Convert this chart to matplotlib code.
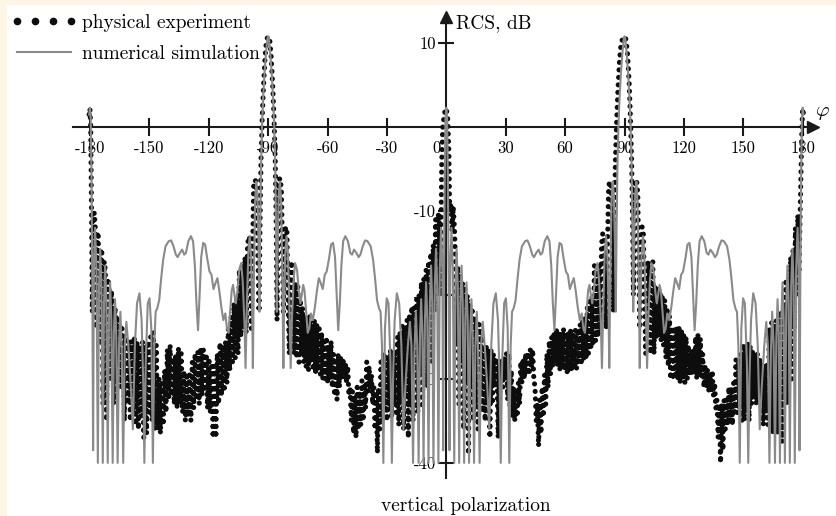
import matplotlib
matplotlib.use('Agg')
import matplotlib.pyplot as plt
from matplotlib.lines import Line2D
from matplotlib.patches import Rectangle
from matplotlib.transforms import ScaledTranslation

plt.rcParams['font.family'] = 'cmr10'
plt.rcParams['mathtext.fontset'] = 'cm'
plt.rcParams['axes.unicode_minus'] = False
plt.rcParams['axes.formatter.use_mathtext'] = True

# numerical simulation, RCS (dB) vs angle phi (deg)
sim_phi = [
    -180.4, -180.0, -179.6, -179.2, -178.8, -178.4, -178.0, -177.4, -176.7, -176.0,
    -175.4, -174.8, -174.2, -173.5, -172.9, -172.3, -171.7, -171.0, -170.4, -169.8,
    -169.2, -168.5, -167.9, -167.3, -166.7, -166.0, -165.3, -164.6, -163.9, -163.2,
    -162.4, -161.6, -160.6, -159.3, -158.3, -157.3, -156.2, -155.0, -153.9, -153.1,
    -152.5, -151.8, -150.8, -149.9, -149.0, -148.2, -147.5, -146.8, -146.0, -145.0,
    -144.0, -143.0, -141.8, -140.2, -139.0, -137.8, -136.6, -135.7, -134.6, -133.4,
    -132.4, -131.5, -130.3, -129.0, -127.9, -127.0, -126.2, -125.4, -124.6, -123.8,
    -122.8, -121.8, -120.8, -119.6, -118.6, -117.6, -116.6, -115.6, -114.6, -113.6,
    -112.6, -111.6, -110.8, -110.0, -109.2, -108.4, -107.7, -107.0, -106.3, -105.5,
    -104.6, -103.6, -102.8, -102.0, -101.4, -100.7, -100.0, -99.3, -98.6, -98.1,
    -97.7, -97.2, -96.6, -96.0, -95.4, -94.9, -94.4, -94.0, -93.6, -93.1,
    -92.5, -91.8, -91.0, -90.4, -90.0,
    -89.6, -89.0, -88.2, -87.5, -86.9, -86.4, -86.0, -85.6, -85.1, -84.6,
    -84.0, -83.4, -82.8, -82.3, -81.9, -81.4, -80.7, -80.0, -79.3, -78.6,
    -78.0, -77.2, -76.4, -75.4, -74.5, -73.7, -73.0, -72.3, -71.6, -70.8,
    -70.0, -69.2, -68.4, -67.4, -66.4, -65.4, -64.4, -63.4, -62.4, -61.4,
    -60.4, -59.2, -58.2, -57.2, -56.2, -55.4, -54.6, -53.8, -53.0, -52.1,
    -51.0, -49.7, -48.5, -47.6, -46.6, -45.4, -44.3, -43.4, -42.2, -41.0,
    -39.8, -38.2, -37.0, -36.0, -35.0, -34.0, -33.2, -32.5, -31.8, -31.0,
    -30.1, -29.2, -28.2, -27.5, -26.9, -26.1, -25.0, -23.8, -22.7, -21.7,
    -20.7, -19.4, -18.4, -17.6, -16.8, -16.1, -15.4, -14.7, -14.0, -13.3,
    -12.7, -12.1, -11.5, -10.8, -10.2, -9.6, -9.0, -8.3, -7.7, -7.1,
    -6.5, -5.8, -5.2, -4.6, -4.0, -3.3, -2.6, -2.0, -1.6, -1.2,
    -0.8, -0.4,
    0.0, 0.4, 0.8, 1.2, 1.6, 2.0, 2.6, 3.3, 4.0, 4.6,
    5.2, 5.8, 6.5, 7.1, 7.7, 8.3, 9.0, 9.6, 10.2, 10.8,
    11.5, 12.1, 12.7, 13.3, 14.0, 14.7, 15.4, 16.1, 16.8, 17.6,
    18.4, 19.4, 20.7, 21.7, 22.7, 23.8, 25.0, 26.1, 26.9, 27.5,
    28.2, 29.2, 30.1, 31.0, 31.8, 32.5, 33.2, 34.0, 35.0, 36.0,
    37.0, 38.2, 39.8, 41.0, 42.2, 43.4, 44.3, 45.4, 46.6, 47.6,
    48.5, 49.7, 51.0, 52.1, 53.0, 53.8, 54.6, 55.4, 56.2, 57.2,
    58.2, 59.2, 60.4, 61.4, 62.4, 63.4, 64.4, 65.4, 66.4, 67.4,
    68.4, 69.2, 70.0, 70.8, 71.6, 72.3, 73.0, 73.7, 74.5, 75.4,
    76.4, 77.2, 78.0, 78.6, 79.3, 80.0, 80.7, 81.4, 81.9, 82.3,
    82.8, 83.4, 84.0, 84.6, 85.1, 85.6, 86.0, 86.4, 86.9, 87.5,
    88.2, 89.0, 89.6, 90.0,
    90.4, 91.0, 91.8, 92.5, 93.1, 93.6, 94.0, 94.4, 94.9, 95.4,
    96.0, 96.6, 97.2, 97.7, 98.1, 98.6, 99.3, 100.0, 100.7, 101.4,
    102.0, 102.8, 103.6, 104.6, 105.5, 106.3, 107.0, 107.7, 108.4, 109.2,
    110.0, 110.8, 111.6, 112.6, 113.6, 114.6, 115.6, 116.6, 117.6, 118.6,
    119.6, 120.8, 121.8, 122.8, 123.8, 124.6, 125.4, 126.2, 127.0, 127.9,
    129.0, 130.3, 131.5, 132.4, 133.4, 134.6, 135.7, 136.6, 137.8, 139.0,
    140.2, 141.8, 143.0, 144.0, 145.0, 146.0, 146.8, 147.5, 148.2, 149.0,
    149.9, 150.8, 151.8, 152.5, 153.1, 153.9, 155.0, 156.2, 157.3, 158.3,
    159.3, 160.6, 161.6, 162.4, 163.2, 163.9, 164.6, 165.3, 166.0, 166.7,
    167.3, 167.9, 168.5, 169.2, 169.8, 170.4, 171.0, 171.7, 172.3, 172.9,
    173.5, 174.2, 174.8, 175.4, 176.0, 176.7, 177.4, 178.0, 178.4, 178.8,
    179.2, 179.6, 180.0, 180.4,
]
sim_rcs = [
    1.5, 2.3, 1.0, -6.0, -18.0, -38.5, -17.0, -12.0, -17.0, -40.0,
    -19.0, -14.5, -19.0, -40.0, -21.0, -16.5, -21.0, -40.0, -23.0, -18.5,
    -23.0, -40.0, -24.5, -20.5, -25.0, -40.0, -26.0, -22.0, -27.0, -40.0,
    -26.0, -23.2, -26.0, -31.0, -36.0, -26.0, -21.0, -19.8, -23.0, -30.0,
    -40.0, -28.0, -21.0, -20.4, -24.0, -40.0, -26.0, -22.0, -21.6, -20.6,
    -18.0, -15.8, -14.2, -13.6, -13.5, -14.2, -15.2, -15.5, -15.0, -14.6,
    -15.2, -15.0, -13.6, -13.0, -13.6, -16.5, -21.0, -24.2, -20.0, -15.5,
    -13.8, -14.0, -15.6, -17.2, -17.6, -19.3, -18.6, -18.0, -19.6, -21.5,
    -23.0, -22.2, -24.0, -24.5, -22.0, -19.5, -18.8, -20.0, -21.0, -19.5,
    -17.0, -16.2, -18.5, -23.0, -28.7, -21.0, -15.0, -13.0, -15.5, -21.0,
    -28.7, -18.0, -9.0, -6.5, -8.0, -13.0, -22.0, -12.0, -5.0, 0.0,
    3.5, 6.5, 9.0, 10.5, 10.8,
    10.5, 9.0, 6.5, 3.5, 0.0, -5.0, -12.0, -22.0, -13.0, -8.0,
    -6.5, -9.0, -18.0, -28.7, -21.0, -15.5, -13.0, -15.0, -21.0, -28.7,
    -23.0, -18.5, -16.2, -17.0, -19.5, -21.0, -20.0, -18.8, -19.5, -22.0,
    -24.5, -24.0, -22.2, -23.0, -21.5, -19.6, -18.0, -18.6, -19.3, -17.6,
    -17.2, -15.6, -14.0, -13.8, -15.5, -20.0, -24.2, -21.0, -16.5, -13.6,
    -13.0, -13.6, -15.0, -15.2, -14.6, -15.0, -15.5, -15.2, -14.2, -13.5,
    -13.6, -14.2, -15.8, -18.0, -20.6, -21.6, -22.0, -26.0, -40.0, -24.0,
    -20.4, -21.0, -28.0, -40.0, -30.0, -23.0, -19.8, -21.0, -26.0, -36.0,
    -31.0, -26.0, -23.2, -26.0, -40.0, -27.0, -22.0, -26.0, -40.0, -25.0,
    -20.5, -24.5, -40.0, -23.0, -18.5, -23.0, -40.0, -21.0, -16.5, -21.0,
    -40.0, -19.0, -14.5, -19.0, -40.0, -17.0, -12.0, -17.0, -38.5, -18.0,
    -6.0, 1.0,
    2.3, 1.0, -6.0, -18.0, -38.5, -17.0, -12.0, -17.0, -40.0, -19.0,
    -14.5, -19.0, -40.0, -21.0, -16.5, -21.0, -40.0, -23.0, -18.5, -23.0,
    -40.0, -24.5, -20.5, -25.0, -40.0, -26.0, -22.0, -27.0, -40.0, -26.0,
    -23.2, -26.0, -31.0, -36.0, -26.0, -21.0, -19.8, -23.0, -30.0, -40.0,
    -28.0, -21.0, -20.4, -24.0, -40.0, -26.0, -22.0, -21.6, -20.6, -18.0,
    -15.8, -14.2, -13.6, -13.5, -14.2, -15.2, -15.5, -15.0, -14.6, -15.2,
    -15.0, -13.6, -13.0, -13.6, -16.5, -21.0, -24.2, -20.0, -15.5, -13.8,
    -14.0, -15.6, -17.2, -17.6, -19.3, -18.6, -18.0, -19.6, -21.5, -23.0,
    -22.2, -24.0, -24.5, -22.0, -19.5, -18.8, -20.0, -21.0, -19.5, -17.0,
    -16.2, -18.5, -23.0, -28.7, -21.0, -15.0, -13.0, -15.5, -21.0, -28.7,
    -18.0, -9.0, -6.5, -8.0, -13.0, -22.0, -12.0, -5.0, 0.0, 3.5,
    6.5, 9.0, 10.5, 10.8,
    10.5, 9.0, 6.5, 3.5, 0.0, -5.0, -12.0, -22.0, -13.0, -8.0,
    -6.5, -9.0, -18.0, -28.7, -21.0, -15.5, -13.0, -15.0, -21.0, -28.7,
    -23.0, -18.5, -16.2, -17.0, -19.5, -21.0, -20.0, -18.8, -19.5, -22.0,
    -24.5, -24.0, -22.2, -23.0, -21.5, -19.6, -18.0, -18.6, -19.3, -17.6,
    -17.2, -15.6, -14.0, -13.8, -15.5, -20.0, -24.2, -21.0, -16.5, -13.6,
    -13.0, -13.6, -15.0, -15.2, -14.6, -15.0, -15.5, -15.2, -14.2, -13.5,
    -13.6, -14.2, -15.8, -18.0, -20.6, -21.6, -22.0, -26.0, -40.0, -24.0,
    -20.4, -21.0, -28.0, -40.0, -30.0, -23.0, -19.8, -21.0, -26.0, -36.0,
    -31.0, -26.0, -23.2, -26.0, -40.0, -27.0, -22.0, -26.0, -40.0, -25.0,
    -20.5, -24.5, -40.0, -23.0, -18.5, -23.0, -40.0, -21.0, -16.5, -21.0,
    -40.0, -19.0, -14.5, -19.0, -40.0, -17.0, -12.0, -17.0, -38.5, -18.0,
    -6.0, 1.0, 2.3, 1.5,
]

# physical experiment, traced as a path through the measured points
exp_phi = [
    -180.4, -180.0, -179.6, -179.2, -178.8, -178.3, -177.8, -177.3, -176.8, -176.3,
    -175.8, -175.2, -174.6, -174.0, -173.4, -172.8, -172.2, -171.6, -171.0, -170.4,
    -169.8, -169.2, -168.6, -168.0, -167.4, -166.8, -166.2, -165.6, -165.0, -164.4,
    -163.8, -163.2, -162.6, -162.0, -161.4, -160.8, -160.2,
    -159.6, -159.0, -158.3, -157.6, -156.9, -156.2, -155.5, -154.8, -154.1, -153.4,
    -152.8, -152.1, -151.4, -150.7, -150.0, -149.3, -148.6, -147.9, -147.2, -146.5,
    -145.8, -145.1, -144.4, -143.7, -143.0, -142.3, -141.6, -140.9, -140.2, -139.5,
    -138.8, -138.1, -137.4, -136.7, -136.0, -135.3, -134.6, -133.9, -133.2, -132.5,
    -131.8, -131.1, -130.4, -129.7, -129.0, -128.3, -127.6, -126.9, -126.2, -125.5,
    -124.8, -124.1, -123.4, -122.7, -122.0, -121.3, -120.6, -119.9, -119.2, -118.5,
    -117.8, -117.1, -116.4, -115.7, -115.0, -114.3, -113.6, -112.9, -112.2, -111.5,
    -110.8, -110.1, -109.4, -108.7, -108.0, -107.3, -106.6, -105.9, -105.2, -104.5,
    -103.8, -103.1, -102.4,
    -101.7, -101.1, -100.4, -99.7, -99.1, -98.5, -97.9, -97.3, -96.7, -96.1,
    -95.6, -95.1, -94.6, -94.1, -93.6, -93.0, -92.3, -91.5, -90.8, -90.0,
    -89.2, -88.5, -87.7, -87.0, -86.4, -85.9, -85.5, -85.0, -84.5, -83.9,
    -83.3, -82.8, -82.3, -81.7, -81.1, -80.5, -79.9, -79.3, -78.7, -78.1,
    -77.5, -76.9,
    -76.2, -75.6, -75.0, -74.4, -73.8, -73.2, -72.6, -72.0, -71.4, -70.8,
    -70.2, -69.6, -69.0, -68.4, -67.8, -67.2, -66.6, -66.0, -65.4, -64.8,
    -64.2, -63.6, -63.0, -62.4, -61.8, -61.2, -60.6, -60.0, -59.4, -58.8,
    -58.2, -57.6, -57.0, -56.4, -55.8, -55.2, -54.6, -54.0, -53.4, -52.8,
    -52.2, -51.6, -51.0, -50.4, -49.8, -49.2, -48.6, -48.0, -47.4, -46.8,
    -46.2, -45.6, -45.0, -44.4, -43.8, -43.2, -42.6, -42.0, -41.4, -40.8,
    -40.2, -39.6, -39.0, -38.4, -37.8, -37.2, -36.6, -36.0, -35.4, -34.8,
    -34.2, -33.6, -33.0, -32.4, -31.8, -31.2, -30.6, -30.0, -29.4, -28.8,
    -28.2, -27.6, -27.0, -26.4, -25.8, -25.2, -24.6, -24.0, -23.4, -22.8,
    -22.2, -21.6, -21.0, -20.4, -19.8, -19.2, -18.6, -18.0, -17.4, -16.8,
    -16.2, -15.6, -15.0, -14.4, -13.8, -13.2, -12.6, -12.0, -11.4, -10.8,
    -10.2, -9.6, -9.0, -8.4, -7.8, -7.2, -6.6, -6.0, -5.4, -4.8,
    -4.2, -3.6, -3.0, -2.6, -2.3, -1.8, -1.0, -0.4,
    0.0, 0.7, 1.3, 1.7, 2.3, 2.9, 3.5, 4.1, 4.7, 5.2,
    5.8, 6.4, 7.0, 7.6, 8.2, 8.8, 9.4, 10.0, 10.6, 11.2,
    11.8, 12.4, 13.0, 13.6, 14.2, 14.8, 15.4, 16.0, 16.6, 17.2,
    17.8, 18.4, 19.0, 19.6, 20.2, 20.8, 21.4, 22.0, 22.6, 23.2,
    23.8, 24.4, 25.0, 25.6, 26.2, 26.8, 27.4, 28.0, 28.6, 29.2,
    29.8, 30.4, 31.0, 31.6, 32.2, 32.8, 33.4, 34.0, 34.6, 35.2,
    35.8, 36.4, 37.0, 37.6, 38.2, 38.8, 39.4, 40.0, 40.6, 41.2,
    41.8, 42.4, 43.0, 43.6, 44.2, 44.8, 45.4, 46.0, 46.6, 47.2,
    47.8, 48.4, 49.0, 49.6, 50.2, 50.8, 51.4, 52.0, 52.6, 53.2,
    53.8, 54.4, 55.0, 55.6, 56.2, 56.8, 57.4, 58.0, 58.6, 59.2,
    59.8, 60.4, 61.0, 61.6, 62.2, 62.8, 63.4, 64.0, 64.6, 65.2,
    65.8, 66.4, 67.0, 67.6, 68.2, 68.8, 69.4, 70.0, 70.6, 71.2,
    71.8, 72.4, 73.0, 73.6, 74.2, 74.8, 75.4, 76.0, 76.6, 77.2,
    77.8, 78.4, 79.0, 79.6, 80.2, 80.8, 81.4, 82.0, 82.6, 83.2,
    83.8, 84.4, 84.9, 85.4, 86.0, 86.7, 87.5, 88.3, 89.2, 90.0,
    90.8, 91.6, 92.4, 93.0, 93.6, 94.1, 94.5, 95.0, 95.5, 96.1,
    96.7, 97.2, 97.7, 98.3, 98.9, 99.5, 100.1, 100.7, 101.3, 101.9,
    102.5, 103.1, 103.7, 104.3, 104.9, 105.5, 106.1, 106.7, 107.3, 107.9,
    108.5, 109.1, 109.7, 110.3, 110.9, 111.5, 112.1, 112.7, 113.3, 113.9,
    114.5, 115.1, 115.7, 116.3, 116.9, 117.5, 118.1, 118.7, 119.3, 119.9,
    120.5, 121.1, 121.7, 122.3, 122.9, 123.5, 124.1, 124.7, 125.3, 125.9,
    126.5, 127.1, 127.7, 128.3, 128.9, 129.5, 130.1, 130.7, 131.3, 131.9,
    132.5, 133.1, 133.7, 134.3, 134.9, 135.5, 136.1, 136.7, 137.3, 137.9,
    138.5, 139.1, 139.7, 140.3, 140.9, 141.5, 142.1, 142.7, 143.3, 143.9,
    144.5, 145.1, 145.7, 146.3, 146.9, 147.5, 148.1, 148.7, 149.3, 149.9,
    150.5, 151.1, 151.7, 152.3, 152.9, 153.5, 154.1, 154.7, 155.3, 155.9,
    156.5, 157.1, 157.7, 158.3, 158.9, 159.5, 160.1, 160.7, 161.3, 161.9,
    162.5, 163.1, 163.7, 164.3, 164.9, 165.5, 166.1, 166.7, 167.3, 167.9,
    168.5, 169.1, 169.7, 170.3, 170.9, 171.5, 172.1, 172.7, 173.3, 173.9,
    174.5, 175.1, 175.7, 176.3, 176.9, 177.5, 178.1, 178.7, 179.2, 179.6,
    180.0, 180.4,
]
exp_rcs = [
    1.5, 2.2, 0.0, -10.0, -22.0, -11.0, -10.2, -12.0, -24.0, -13.0,
    -12.5, -26.0, -15.0, -14.5, -33.0, -16.0, -17.0, -35.0, -18.0, -19.0,
    -30.0, -19.5, -21.0, -33.0, -21.5, -22.5, -30.0, -23.0, -23.0, -31.0,
    -24.0, -25.0, -35.0, -25.0, -26.0, -33.0, -25.5,
    -35.0, -25.5, -34.0, -25.0, -35.5, -25.5, -36.0, -26.0, -34.5, -25.5,
    -37.0, -26.0, -36.5, -25.5, -34.0, -25.0, -35.0, -24.5, -36.0, -26.0,
    -36.0, -30.0, -36.5, -30.5, -35.5, -29.0, -34.0, -26.5, -32.5, -26.0,
    -32.0, -27.5, -33.0, -27.0, -33.5, -26.3, -33.0, -27.0, -34.0, -29.0,
    -35.0, -29.3, -34.5, -29.5, -35.0, -28.0, -33.5, -27.0, -32.5, -26.8,
    -33.0, -26.3, -32.0, -26.5, -31.5, -27.0, -33.5, -27.5, -34.0, -28.5,
    -37.0, -28.5, -37.0, -27.0, -33.0, -25.7, -32.0, -26.0, -31.5, -25.5,
    -30.5, -24.0, -29.0, -22.6, -28.0, -21.0, -27.5, -20.5, -27.0, -17.0,
    -25.0, -16.5, -24.0,
    -15.5, -24.5, -14.0, -13.0, -13.5, -24.0, -16.0, -7.0, -6.3, -6.5,
    -9.0, -16.0, -22.0, -12.0, -4.0, 1.0, 5.0, 8.5, 10.4, 10.8,
    10.4, 8.5, 5.0, 1.0, -4.0, -12.0, -23.0, -12.0, -6.3, -6.1,
    -7.5, -14.0, -22.0, -13.0, -11.9, -12.5, -21.0, -27.0, -17.0, -16.0,
    -20.0, -27.0,
    -18.5, -27.5, -19.0, -28.0, -20.5, -27.0, -21.5, -28.0, -22.5, -28.5,
    -23.0, -29.0, -22.5, -28.0, -23.5, -29.0, -23.0, -29.5, -23.5, -29.0,
    -24.0, -29.5, -24.5, -30.0, -25.5, -30.0, -25.0, -30.5, -26.0, -30.0,
    -25.5, -31.0, -27.0, -32.0, -27.5, -32.5, -27.0, -31.0, -27.4, -30.0,
    -27.5, -30.0, -28.0, -30.5, -28.5, -32.0, -31.0, -35.0, -31.5, -36.5,
    -32.0, -37.0, -31.0, -36.0, -31.5, -35.5, -30.2, -35.0, -30.5, -33.5,
    -28.0, -31.5, -28.5, -31.0, -29.5, -33.0, -31.0, -36.0, -31.5, -38.8,
    -31.0, -36.0, -28.0, -35.0, -27.0, -34.0, -27.0, -35.0, -27.5, -33.0,
    -26.5, -34.5, -27.0, -33.0, -26.5, -34.0, -25.0, -35.5, -24.5, -33.0,
    -23.7, -36.0, -23.7, -32.0, -23.0, -37.0, -22.5, -33.0, -21.4, -35.0,
    -21.5, -30.0, -20.5, -34.0, -20.0, -29.0, -18.5, -33.5, -18.0, -27.0,
    -17.0, -31.0, -16.0, -24.0, -15.0, -28.0, -14.0, -22.0, -11.0, -19.0,
    -10.3, -11.0, -20.0, -10.0, -4.0, 0.0, 1.5, 2.2,
    2.2, 1.0, -3.0, -10.0, -9.0, -12.5, -9.5, -12.0, -16.6, -26.0,
    -16.6, -33.0, -17.5, -28.0, -18.5, -36.0, -19.3, -30.0, -20.0, -39.0,
    -21.0, -31.0, -21.5, -35.0, -22.5, -33.0, -23.0, -36.0, -23.5, -31.5,
    -24.0, -34.0, -26.0, -35.0, -26.0, -32.5, -26.5, -37.0, -26.5, -33.0,
    -27.0, -31.0, -27.5, -30.0, -37.0, -28.0, -30.5, -27.7, -31.0, -27.5,
    -30.0, -27.0, -32.5, -27.0, -33.5, -29.0, -34.5, -31.0, -35.0, -31.5,
    -34.5, -30.5, -33.0, -28.0, -30.5, -27.5, -30.0, -27.0, -29.5, -26.8,
    -29.5, -26.5, -28.5, -26.5, -30.0, -31.0, -35.0, -33.0, -38.0, -32.5,
    -36.5, -31.0, -34.5, -29.5, -33.0, -27.0, -31.0, -25.5, -29.5, -25.0,
    -28.5, -24.5, -28.0, -24.0, -28.5, -24.5, -29.0, -24.5, -28.5, -24.0,
    -29.0, -24.5, -29.3, -24.5, -28.8, -24.3, -29.0, -24.8, -28.5, -24.2,
    -28.8, -24.5, -28.0, -23.5, -28.0, -22.9, -27.6, -22.5, -27.5, -21.5,
    -27.0, -20.8, -26.5, -20.0, -26.0, -16.5, -25.5, -16.2, -25.0, -16.5,
    -24.5, -14.0, -12.7, -13.0, -22.0, -24.0, -14.0, -7.0, -6.5, -6.7,
    -10.0, -22.0, -12.0, -4.0, 0.5, 4.5, 8.0, 10.0, 10.6, 10.8,
    10.4, 8.5, 5.0, 1.0, -4.0, -12.0, -20.0, -10.0, -6.3, -6.3,
    -8.0, -15.8, -24.0, -14.0, -11.9, -12.5, -20.0, -27.0, -18.0, -16.0,
    -17.0, -27.0, -16.5, -16.0, -27.0, -19.0, -25.0, -19.0, -25.0, -19.5,
    -25.5, -20.0, -26.0, -20.6, -27.5, -21.5, -28.5, -22.5, -30.0, -23.8,
    -30.1, -23.8, -29.5, -24.0, -30.0, -23.8, -30.5, -24.0, -30.0, -24.5,
    -30.5, -25.0, -30.0, -26.0, -29.5, -26.8, -29.3, -26.5, -29.5, -25.0,
    -30.0, -24.8, -29.5, -25.2, -30.0, -27.0, -31.0, -28.6, -31.0, -29.0,
    -31.5, -29.3, -31.5, -29.0, -32.0, -30.5, -33.5, -32.5, -37.0, -33.0,
    -40.0, -33.0, -38.5, -32.5, -36.0, -32.5, -35.5, -31.0, -35.0, -31.0,
    -35.5, -30.5, -34.0, -27.7, -34.0, -28.0, -33.5, -27.0, -35.0, -25.8,
    -35.0, -26.0, -34.0, -25.8, -35.0, -26.0, -33.0, -26.5, -32.0, -27.3,
    -33.0, -27.0, -32.5, -27.5, -33.0, -28.0, -35.5, -28.5, -34.0, -28.0,
    -35.5, -24.0, -34.0, -23.3, -36.5, -23.5, -33.0, -23.0, -36.5, -22.0,
    -34.0, -21.8, -37.5, -21.0, -32.0, -18.5, -33.0, -18.2, -28.0, -15.5,
    -30.0, -14.6, -24.0, -12.0, -20.0, -10.5, -17.4, -10.3, -5.0, 0.0,
    2.2, 1.5,
]

x_ticks = [-180, -150, -120, -90, -60, -30, 0, 30, 60, 90, 120, 150, 180]
x_tick_labels = ['-180', '-150', '-120', '-90', '-60', '-30', '0',
                 '30', '60', '90', '120', '150', '180']
y_ticks = [10, -10, -20, -30, -40]
y_tick_labels = ['10', '-10', '-20', '-30', '-40']

axis_color = '#1a1a1a'
sim_color = '#8a8a8a'
exp_color = '#0d0d0d'

fig = plt.figure(figsize=(8.36, 5.16), dpi=100, facecolor='#fdf6e4')
fig.add_artist(Rectangle((7 / 836, 0), 1, 1 - 5 / 516, transform=fig.transFigure,
                         facecolor='white', edgecolor='none', zorder=-10))

ax = fig.add_axes([0.08696, 0.07364, 0.88553, 0.89341])
ax.patch.set_visible(False)

ax.plot(exp_phi, exp_rcs, color=exp_color, lw=3.7, ls=(0, (0.01, 1.45)),
        dash_capstyle='round', zorder=3)
ax.plot(sim_phi, sim_rcs, color=sim_color, lw=1.5, zorder=4)

ax.set_xlim(-188.7, 185.2)
ax.set_ylim(-41.8, 13.1)

# axes crossing at the origin
for side in ['top', 'right']:
    ax.spines[side].set_visible(False)
for side in ['left', 'bottom']:
    ax.spines[side].set_position(('data', 0))
    ax.spines[side].set_linewidth(1.5)
    ax.spines[side].set_color(axis_color)
ax.set_axisbelow(True)

ax.set_xticks(x_ticks)
ax.set_xticklabels(x_tick_labels)
ax.set_yticks(y_ticks)
ax.set_yticklabels(y_tick_labels)
ax.tick_params(axis='x', direction='inout', length=13, width=1.5, pad=3,
               labelsize=12, color=axis_color)
ax.tick_params(axis='y', direction='inout', length=11, width=1.5, pad=2,
               labelsize=12, color=axis_color)
# the "0" sits just left of the vertical axis, as in the original
shift_left = ScaledTranslation(-4 / 72, 0, fig.dpi_scale_trans)
for lab in ax.get_xticklabels():
    if lab.get_text() == '0':
        lab.set_horizontalalignment('right')
        lab.set_transform(lab.get_transform() + shift_left)
        lab.set_zorder(5)

# arrow heads
ax.plot(1, 0, '>', color=axis_color, ms=8, transform=ax.get_yaxis_transform(), clip_on=False)
ax.plot(0, 1, '^', color=axis_color, ms=8, transform=ax.get_xaxis_transform(), clip_on=False)

ax.text(4.9, 12.4, 'RCS, dB', fontsize=14, ha='left', va='center')
ax.text(186.0, 1.7, r'$\varphi$', fontsize=15, ha='left', va='center')
fig.text(466 / 836, 1 - 506 / 516, 'vertical polarization', fontsize=14,
         ha='center', va='center')

h_exp = Line2D([], [], ls='none', marker='o', ms=4.5, color=exp_color)
h_sim = Line2D([], [], color=sim_color, lw=1.5)
fig.legend([h_exp, h_sim], ['physical experiment', 'numerical simulation'],
           loc='upper left', bbox_to_anchor=(11 / 836, 1 - 14 / 516),
           frameon=False, fontsize=14, numpoints=4, handlelength=3.4,
           handletextpad=0.25, borderpad=0, borderaxespad=0, labelspacing=0.68)

fig.savefig('out.png', dpi=100, facecolor=fig.get_facecolor())
